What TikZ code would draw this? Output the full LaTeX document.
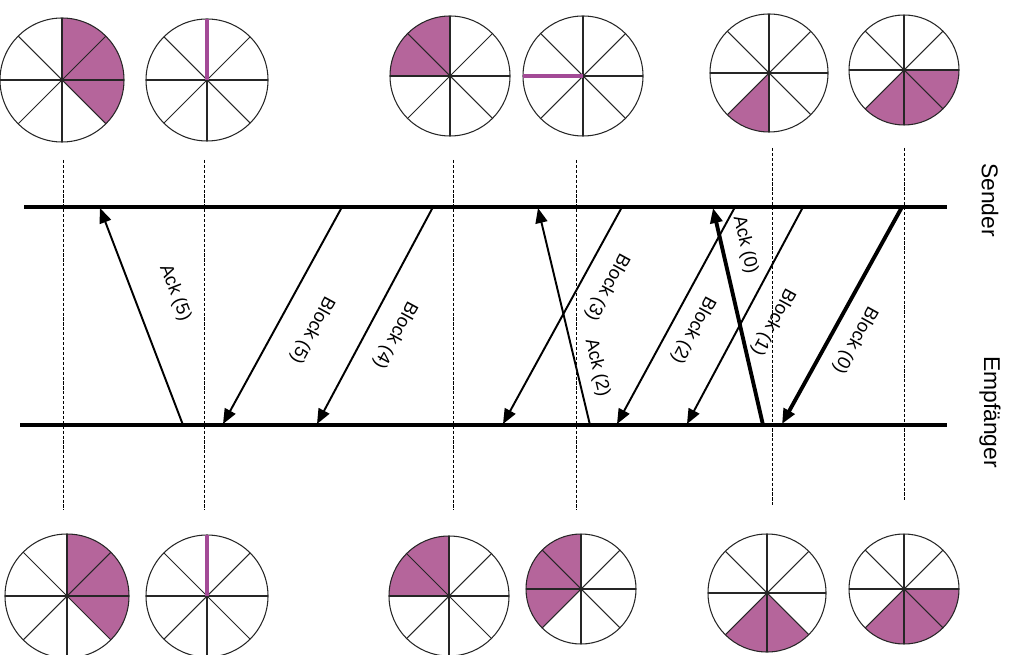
\documentclass[tikz,border=0pt]{standalone}
\usepackage{fontspec}
\setmainfont{Liberation Sans}
\usetikzlibrary{arrows.meta}

\definecolor{piepurple}{RGB}{181,101,155}
\definecolor{pointerpurple}{RGB}{163,74,150}

% pie with 8 spokes: centre, radius
\newcommand{\piechart}[2]{%
	\foreach \a in {0,45,...,315} \draw[spoke] (#1) -- ++(\a:#2);
	\draw[spoke] (#1) circle (#2);
}

\begin{document}
\begin{tikzpicture}[x=0.2mm, y=0.2mm,
	spoke/.style={line width=0.6pt, black!85},
	sector/.style={fill=piepurple},
	pointer/.style={line width=1.8pt, pointerpurple},
	guide/.style={line width=0.5pt, dash pattern=on 1.8pt off 1pt},
	timeline/.style={line width=2pt},
	msg/.style={line width=1.1pt, -{Triangle[length=3mm,width=2.4mm]}},
	thickmsg/.style={msg, line width=2.2pt},
	lbl/.style={font=\fontsize{10.5}{12}\selectfont, inner sep=1pt},
	side/.style={font=\fontsize{13}{15}\selectfont, inner sep=1pt}]
	\useasboundingbox (0,0) rectangle (1009,-655);

	% pie centres
	\coordinate (t1) at (62,-80);   \coordinate (b1) at (67,-596);
	\coordinate (t2) at (207,-80);  \coordinate (b2) at (207,-596);
	\coordinate (t3) at (450,-76);  \coordinate (b3) at (449,-596);
	\coordinate (t4) at (583,-76);  \coordinate (b4) at (581,-589);
	\coordinate (t5) at (769,-73);  \coordinate (b5) at (767,-593);
	\coordinate (t6) at (904,-70);  \coordinate (b6) at (904,-589);

	% top row
	\fill[sector] (t1) -- ++(-45:62) arc (-45:90:62) -- cycle;
	\piechart{t1}{62}
	\piechart{t2}{61}
	\draw[pointer] (t2) -- ++(90:61);
	\fill[sector] (t3) -- ++(90:60) arc (90:180:60) -- cycle;
	\piechart{t3}{60}
	\piechart{t4}{60}
	\draw[pointer] (t4) -- ++(180:60);
	\fill[sector] (t5) -- ++(225:59) arc (225:270:59) -- cycle;
	\piechart{t5}{59}
	\fill[sector] (t6) -- ++(225:55) arc (225:360:55) -- cycle;
	\piechart{t6}{55}

	% bottom row
	\fill[sector] (b1) -- ++(-45:62) arc (-45:90:62) -- cycle;
	\piechart{b1}{62}
	\piechart{b2}{61}
	\draw[pointer] (b2) -- ++(90:61);
	\fill[sector] (b3) -- ++(90:60) arc (90:180:60) -- cycle;
	\piechart{b3}{60}
	\fill[sector] (b4) -- ++(90:55) arc (90:225:55) -- cycle;
	\piechart{b4}{55}
	\fill[sector] (b5) -- ++(225:59) arc (225:315:59) -- cycle;
	\piechart{b5}{59}
	\fill[sector] (b6) -- ++(225:55) arc (225:360:55) -- cycle;
	\piechart{b6}{55}

	% guide lines
	\foreach \x/\a/\b in {63/160/510, 204/160/510, 453/160/510, 576/160/510, 772/148/505, 904/148/500}
		\draw[guide] (\x,-\a) -- (\x,-\b);

	% sender and receiver
	\draw[timeline] (24,-207) -- (947,-207);
	\draw[timeline] (20,-425) -- (947,-425);
	\node[side, rotate=-90] (snd) at (990,-200) {Sender};
	\node[side, rotate=-90] (rcv) at (990,-412) {Empfänger};

	% end points of the messages
	\coordinate (a5r) at (183,-425); \coordinate (a5s) at (100,-208);
	\coordinate (k5s) at (342,-207); \coordinate (k5r) at (223,-424);
	\coordinate (k4s) at (433,-207); \coordinate (k4r) at (317,-424);
	\coordinate (k3s) at (622,-207); \coordinate (k3r) at (503,-424);
	\coordinate (a2r) at (590,-425); \coordinate (a2s) at (538,-208);
	\coordinate (k2s) at (735,-207); \coordinate (k2r) at (617,-424);
	\coordinate (a0r) at (763,-425); \coordinate (a0s) at (713,-208);
	\coordinate (k1s) at (803,-207); \coordinate (k1r) at (687,-424);
	\coordinate (k0s) at (902,-207); \coordinate (k0r) at (782,-424);

	\draw[msg] (a5r) -- (a5s);
	\draw[msg] (k5s) -- (k5r);
	\draw[msg] (k4s) -- (k4r);
	\draw[msg] (k3s) -- (k3r);
	\draw[msg] (a2r) -- (a2s);
	\draw[msg] (k2s) -- (k2r);
	\draw[thickmsg] (a0r) -- (a0s);
	\draw[msg] (k1s) -- (k1r);
	\draw[thickmsg] (k0s) -- (k0r);

	\node[lbl, rotate=-68.8] (la5) at (175,-293) {Ack (5)};
	\node[lbl, rotate=-118.7] (lk5) at (312,-330) {Block (5)};
	\node[lbl, rotate=-118.4] (lk4) at (395,-335) {Block (4)};
	\node[lbl, rotate=-118.7] (lk3) at (607,-287) {Block (3)};
	\node[lbl, rotate=-76.5] (la2) at (597,-368) {Ack (2)};
	\node[lbl, rotate=-118.7] (lk2) at (693,-330) {Block (2)};
	\node[lbl, rotate=-76.9] (la0) at (745,-245) {Ack (0)};
	\node[lbl, rotate=-118.4] (lk1) at (773,-322) {Block (1)};
	\node[lbl, rotate=-119.1] (lk0) at (855,-340) {Block (0)};
\end{tikzpicture}
\end{document}
